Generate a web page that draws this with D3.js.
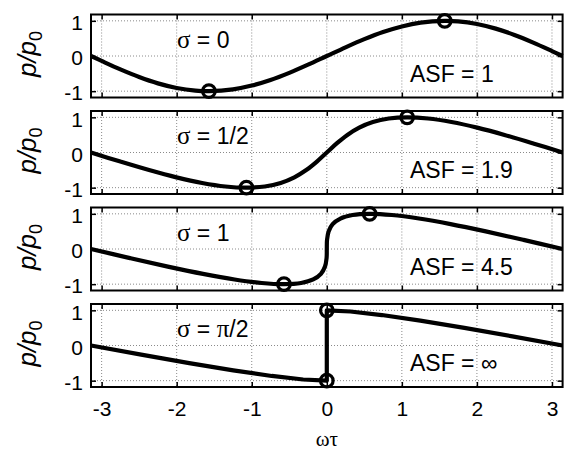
<!DOCTYPE html>
<html>
<head>
<meta charset="utf-8">
<script src="https://cdn.jsdelivr.net/npm/d3@7"></script>
<style>
  html, body { margin: 0; padding: 0; background: #fff; }
  svg { display: block; }
</style>
</head>
<body>
<svg id="chart" width="567" height="450"></svg>
<script>
// ---------------- data ----------------
const xTicks = [-3, -2, -1, 0, 1, 2, 3];
const yTicks = [-1, 0, 1];
const sigmaLabels = ["0", "1/2", "1", "π/2"];
const asfLabels = ["1", "1.9", "4.5", "∞"];

// sigma = 0
const wave0 = [
  [-3.1416, 0], [-3.0, -0.141], [-2.75, -0.382], [-2.5, -0.598], [-2.25, -0.778],
  [-2.0, -0.909], [-1.75, -0.984], [-1.5708, -1.0], [-1.25, -0.949], [-1.0, -0.841],
  [-0.75, -0.682], [-0.5, -0.479], [-0.25, -0.247], [0, 0], [0.25, 0.247],
  [0.5, 0.479], [0.75, 0.682], [1.0, 0.841], [1.25, 0.949], [1.5708, 1.0],
  [1.75, 0.984], [2.0, 0.909], [2.25, 0.778], [2.5, 0.598], [2.75, 0.382],
  [3.0, 0.141], [3.1416, 0]
];
// sigma = 1/2
const wave1 = [
  [-3.1416, 0], [-2.750, -0.259], [-2.368, -0.5], [-2.003, -0.707], [-1.661, -0.866],
  [-1.350, -0.966], [-1.071, -1.0], [-0.826, -0.966], [-0.614, -0.866], [-0.432, -0.707],
  [-0.274, -0.5], [-0.132, -0.259], [0, 0], [0.132, 0.259], [0.274, 0.5],
  [0.432, 0.707], [0.614, 0.866], [0.826, 0.966], [1.071, 1.0], [1.350, 0.966],
  [1.661, 0.866], [2.003, 0.707], [2.368, 0.5], [2.750, 0.259], [3.1416, 0]
];
// sigma = 1
const wave2 = [
  [-3.1416, 0], [-2.621, -0.259], [-2.118, -0.5], [-1.649, -0.707], [-1.228, -0.866],
  [-0.867, -0.966], [-0.571, -1.0], [-0.343, -0.966], [-0.181, -0.866], [-0.078, -0.707],
  [-0.024, -0.5], [-0.003, -0.259], [0, 0], [0.003, 0.259], [0.024, 0.5],
  [0.078, 0.707], [0.181, 0.866], [0.343, 0.966], [0.571, 1.0], [0.867, 0.966],
  [1.228, 0.866], [1.649, 0.707], [2.118, 0.5], [2.621, 0.259], [3.1416, 0]
];
// sigma = pi/2 (shock at 0)
const wave3 = [
  [-3.1416, 0], [-2.473, -0.259], [-1.833, -0.5], [-1.246, -0.707], [-0.734, -0.866],
  [-0.315, -0.966], [0, -1.0], [0, 1.0], [0.315, 0.966], [0.734, 0.866],
  [1.246, 0.707], [1.833, 0.5], [2.473, 0.259], [3.1416, 0]
];
const waves = [wave0, wave1, wave2, wave3];

// extrema markers
const markers0 = [[-1.5708, -1], [1.5708, 1]];
const markers1 = [[-1.0708, -1], [1.0708, 1]];
const markers2 = [[-0.5708, -1], [0.5708, 1]];
const markers3 = [[0, -1], [0, 1]];
const markers = [markers0, markers1, markers2, markers3];

// ---------------- drawing ----------------
const svg = d3.select("#chart");
const sans = "'Liberation Sans', Arial, Helvetica, sans-serif";
const serif = "'Liberation Serif', 'Times New Roman', serif";

const x0 = 91, x1 = 562.6;
const panelTops = [14.5, 111, 207.5, 304];
const panelH = 83;

const x = d3.scaleLinear().domain([-Math.PI, Math.PI]).range([x0, x1]);

waves.forEach((wave, i) => {
  const top = panelTops[i];
  const y = d3.scaleLinear().domain([-1.18, 1.18]).range([top + panelH, top]);
  const g = svg.append("g");

  // grid
  g.selectAll(".gx").data(xTicks).join("line")
    .attr("x1", d => x(d)).attr("x2", d => x(d))
    .attr("y1", top).attr("y2", top + panelH)
    .attr("stroke", "#8a8a8a").attr("stroke-width", 1)
    .attr("stroke-dasharray", "1,2");
  g.selectAll(".gy").data(yTicks).join("line")
    .attr("x1", x0).attr("x2", x1)
    .attr("y1", d => y(d)).attr("y2", d => y(d))
    .attr("stroke", "#8a8a8a").attr("stroke-width", 1)
    .attr("stroke-dasharray", "1,2");

  // axes with inward ticks
  const axB = d3.axisBottom(x).tickValues(xTicks).tickSizeInner(-5).tickSizeOuter(0)
    .tickFormat(i === 3 ? (d => String(d)) : () => "");
  const axT = d3.axisTop(x).tickValues(xTicks).tickSizeInner(-5).tickSizeOuter(0).tickFormat(() => "");
  const axL = d3.axisLeft(y).tickValues(yTicks).tickSizeInner(-5).tickSizeOuter(0)
    .tickFormat(d => String(d));
  const axR = d3.axisRight(y).tickValues(yTicks).tickSizeInner(-5).tickSizeOuter(0).tickFormat(() => "");

  const gb = g.append("g").attr("transform", `translate(0,${top + panelH})`).call(axB);
  const gt = g.append("g").attr("transform", `translate(0,${top})`).call(axT);
  const gl = g.append("g").attr("transform", `translate(${x0},0)`).call(axL);
  const gr = g.append("g").attr("transform", `translate(${x1},0)`).call(axR);
  [gb, gt, gl, gr].forEach(a => {
    a.select(".domain").remove();
    a.selectAll(".tick line").attr("stroke", "#000").attr("stroke-width", 1.5);
    a.selectAll("text").attr("font-family", sans).attr("font-size", 21).attr("fill", "#000");
  });
  gl.selectAll("text").attr("x", -8).attr("dy", "0.42em");
  gb.selectAll("text").attr("y", 14).attr("dy", "0.71em");

  // box
  g.append("rect").attr("x", x0).attr("y", top).attr("width", x1 - x0).attr("height", panelH)
    .attr("fill", "none").attr("stroke", "#000").attr("stroke-width", 2);

  // curve
  const line = d3.line().x(d => x(d[0])).y(d => y(d[1]))
    .curve(i === 3 ? d3.curveLinear : d3.curveCatmullRom.alpha(0.5));
  g.append("path").datum(wave).attr("d", line)
    .attr("fill", "none").attr("stroke", "#000").attr("stroke-width", 4.2)
    .attr("stroke-linejoin", "round").attr("stroke-linecap", "butt");

  // markers
  g.selectAll(".mk").data(markers[i]).join("circle")
    .attr("cx", d => x(d[0])).attr("cy", d => y(d[1])).attr("r", 6.3)
    .attr("fill", "none").attr("stroke", "#000").attr("stroke-width", 3.2);

  // sigma label
  const ts = g.append("text").attr("x", 177).attr("y", top + 33)
    .attr("font-family", sans).attr("font-size", 23).attr("fill", "#000");
  ts.append("tspan").attr("font-family", serif).attr("font-size", 25).text("σ");
  if (sigmaLabels[i] === "π/2") {
    ts.append("tspan").text(" = ");
    ts.append("tspan").attr("font-family", serif).attr("font-size", 25).text("π");
    ts.append("tspan").text("/2");
  } else {
    ts.append("tspan").text(" = " + sigmaLabels[i]);
  }

  // ASF label
  g.append("text").attr("x", 410).attr("y", top + 67)
    .attr("font-family", sans).attr("font-size", 23).attr("fill", "#000")
    .text("ASF = " + asfLabels[i]);

  // y label
  const yl = g.append("text")
    .attr("transform", `translate(36,${top + panelH / 2 - 2}) rotate(-90)`)
    .attr("text-anchor", "middle")
    .attr("font-family", sans).attr("font-size", 26).attr("fill", "#000");
  yl.append("tspan").attr("font-style", "italic").text("p/p");
  yl.append("tspan").attr("font-size", 18).attr("dy", 6).text("0");
});

// x label
svg.append("text").attr("x", x(0)).attr("y", 446)
  .attr("text-anchor", "middle")
  .attr("font-family", serif).attr("font-size", 21).attr("fill", "#000")
  .text("ωτ");
</script>
</body>
</html>
